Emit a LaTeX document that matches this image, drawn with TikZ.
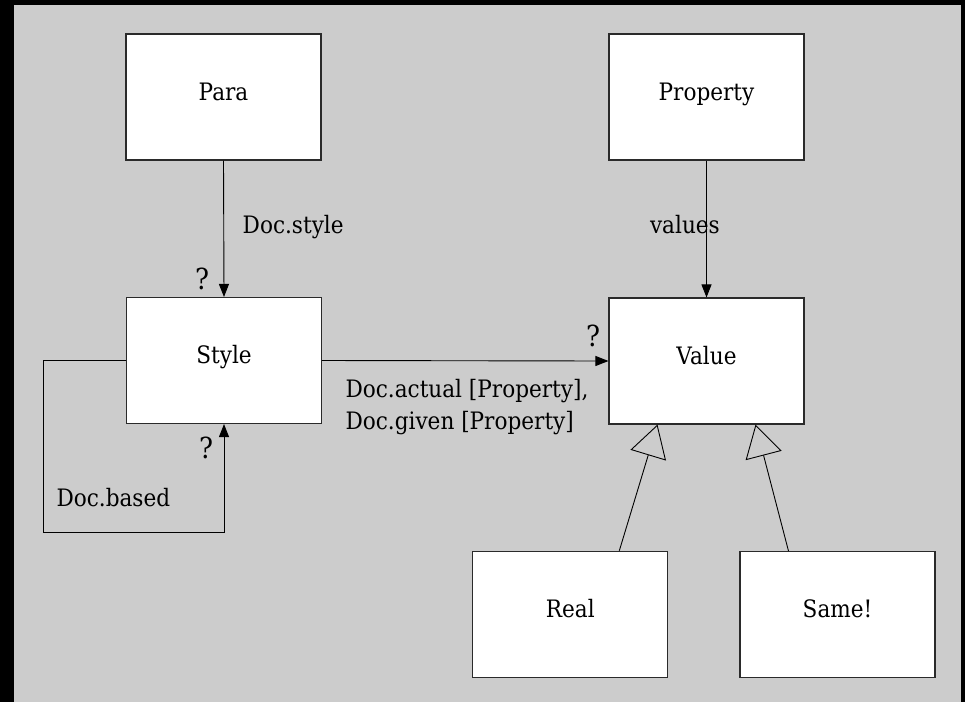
\documentclass[tikz,border=0pt]{standalone}
\usepackage{fontspec}
\setmainfont{DejaVu Serif}[FakeStretch=0.9]
\usetikzlibrary{arrows.meta,calc}
\definecolor{canvas}{HTML}{CCCCCC}
\definecolor{edge}{HTML}{2A2A2A}
\begin{document}
\begin{tikzpicture}[x=1pt,y=-1pt,
  font=\fontsize{24}{32}\selectfont,
  box/.style={draw=edge,fill=white,line width=1.1pt,minimum width=195pt,minimum height=126pt,
    inner sep=0pt,text height=6pt,text depth=0pt},
  assoc/.style={draw=black,line width=0.9pt,-{Triangle[length=13pt,width=10pt]}},
  inherit/.style={draw=black,line width=0.9pt,-{Triangle[open,length=32pt,width=37pt,line width=0.9pt]}},
  lbl/.style={anchor=base west,inner sep=0pt,outer sep=0pt},
  mult/.style={lbl,font=\fontsize{29}{32}\selectfont}]
  % frame and canvas
  \fill[black] (0,0) rectangle (965,702);
  \fill[canvas] (14,5) rectangle (961,702);
  \useasboundingbox (0,0) rectangle (965,702);

  % classes
  \node[box] (Para) at (223.5,97) {Para};
  \node[box] (Property) at (706.5,97) {Property};
  \node[box] (Style) at (224,360.5) {Style};
  \node[box] (Value) at (706.5,361) {Value};
  \node[box] (Real) at (570.3,614.2) {Real};
  \node[box] (Same) at (837.5,614.5) {Same!};

  % associations
  \draw[assoc] (Para.south) -- (Style.north);
  \draw[assoc] (Property.south) -- (Value.north);
  \draw[assoc] (Style.east) -- (Value.west);
  \coordinate (loop) at (43,532);
  \draw[assoc] (Style.west) -- (Style.west -| loop) |- (Style.south |- loop) -- (Style.south);

  % generalisations
  \draw[inherit] ($(Real.north west)!0.75!(Real.north east)$) -- ($(Value.south west)!0.25!(Value.south east)$);
  \draw[inherit] ($(Same.north west)!0.25!(Same.north east)$) -- ($(Value.south west)!0.75!(Value.south east)$);

  % role names and multiplicities
  \node[lbl] (lstyle) at (242.7,233) {Doc.style};
  \node[lbl] (lvalues) at (650,233) {values};
  \node[mult] (q1) at (195,289) {?};
  \node[mult] (q2) at (586,346.7) {?};
  \node[mult] (q3) at (199,458) {?};
  \node[lbl] (lbased) at (56.5,506.7) {Doc.based};
  \node[lbl] (lactual) at (345.5,397) {Doc.actual [Property],};
  \node[lbl] (lgiven) at (345.5,429.3) {Doc.given [Property]};
\end{tikzpicture}
\end{document}
